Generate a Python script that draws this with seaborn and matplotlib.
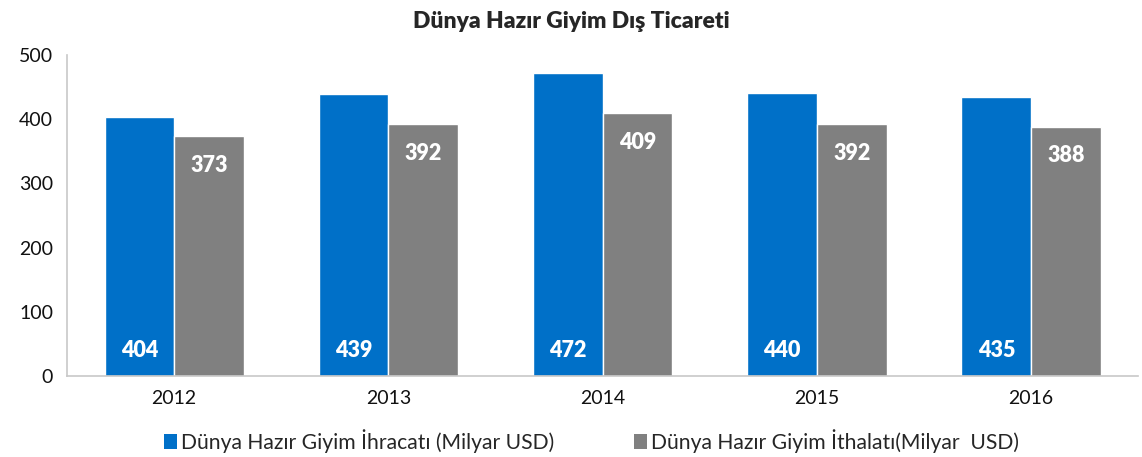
import matplotlib
matplotlib.use("Agg")
import matplotlib.pyplot as plt
import seaborn as sns
import pandas as pd

years = ["2012", "2013", "2014", "2015", "2016"]
ihracat = [404, 439, 472, 440, 435]
ithalat = [373, 392, 409, 392, 388]
series_names = ["Dünya Hazır Giyim İhracatı (Milyar USD)", "Dünya Hazır Giyim İthalatı(Milyar  USD)"]
title = "Dünya Hazır Giyim Dış Ticareti"

df = pd.DataFrame({
    "Yıl": years * 2,
    "Değer": ihracat + ithalat,
    "Seri": [series_names[0]] * len(years) + [series_names[1]] * len(years),
})

sns.set_style("white")
plt.rcParams['font.family'] = ['Lato', 'DejaVu Sans']

fig = plt.figure(figsize=(11.42, 4.57), dpi=100)
ax = fig.add_axes([0.0587, 0.177, 0.938, 0.703])
palette = {series_names[0]: "#0070C8", series_names[1]: "#808080"}
sns.barplot(data=df, x="Yıl", y="Değer", hue="Seri", palette=palette, width=0.65,
            saturation=1, ax=ax, legend=False)

ax.set_ylim(0, 500)
ax.set_xlim(-0.5, 4.5)
ax.set_yticks([0, 100, 200, 300, 400, 500])
ax.set_xlabel("")
ax.set_ylabel("")
ax.tick_params(axis='both', labelsize=14, length=0, colors="#111111")
ax.tick_params(axis='x', pad=10)
ax.tick_params(axis='y', pad=10)
for s in ["top", "right"]:
    ax.spines[s].set_visible(False)
ax.spines["left"].set_color("#C8C8C8")
ax.spines["bottom"].set_color("#C8C8C8")
ax.spines["left"].set_linewidth(1.2)
ax.spines["bottom"].set_linewidth(1.2)

# labels
c0, c1 = ax.containers[0], ax.containers[1]
for bar, v in zip(c0, ihracat):
    ax.text(bar.get_x() + bar.get_width() / 2, 40, str(v), ha="center", va="center",
            color="white", fontsize=15.5, fontweight="heavy")
for bar, v in zip(c1, ithalat):
    ax.text(bar.get_x() + bar.get_width() / 2, v - 45, str(v), ha="center", va="center",
            color="white", fontsize=15.5, fontweight="heavy")

fig.text(0.5, 0.953, title, ha="center", va="center", fontsize=16.5, fontweight="heavy")

from matplotlib.patches import Patch
handles = [Patch(facecolor=palette[n], edgecolor="none") for n in series_names]
fig.legend(handles, series_names, loc="center", bbox_to_anchor=(0.518, 0.035), ncol=2,
           frameon=False, fontsize=15.2, handlelength=0.6, handleheight=0.75,
           handletextpad=0.2, columnspacing=3.8)

fig.savefig("out.png", dpi=100)
